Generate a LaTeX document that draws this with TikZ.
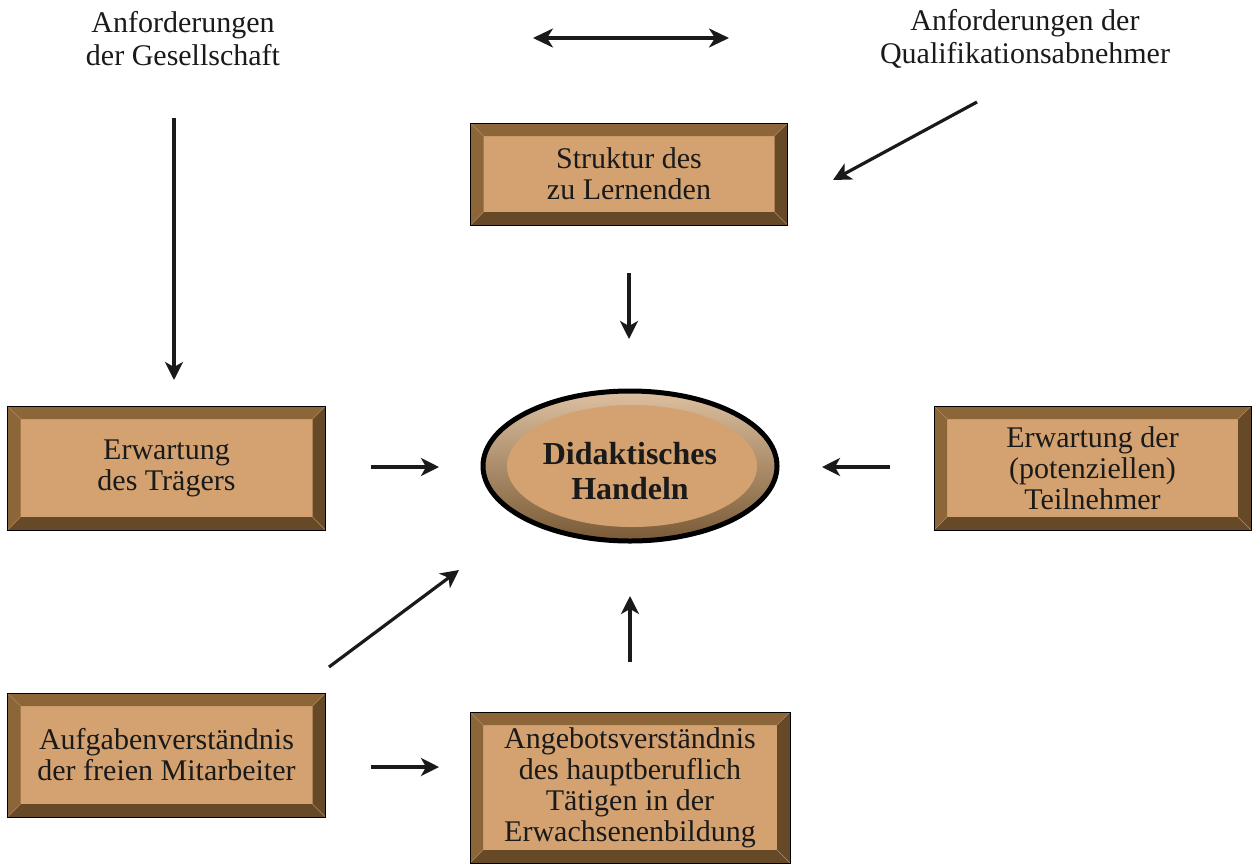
\documentclass[tikz,border=0pt]{standalone}
\usepackage{fontspec}
\setmainfont{Liberation Serif}
\usetikzlibrary{arrows.meta,calc}

\definecolor{boxfill}{HTML}{D4A270}
\definecolor{bevtop}{HTML}{8C6638}
\definecolor{bevbot}{HTML}{664A28}
\definecolor{bevline}{HTML}{B08A5C}
\definecolor{ringtop}{HTML}{DCC0A0}
\definecolor{ringbot}{HTML}{7A5A36}
\definecolor{ink}{HTML}{1A1A1A}

\tikzset{
  txt/.style={font=\fontsize{30}{33}\selectfont, text=ink, align=center, inner sep=0pt},
  % rectangle with bevelled frame: light top/left, dark right/bottom
  bevelbox/.style={rectangle, draw=black, line width=1pt, fill=boxfill,
    font=\fontsize{30}{31}\selectfont, text=ink, align=center, inner sep=0pt,
    path picture={
      \coordinate (nw) at (path picture bounding box.north west);
      \coordinate (se) at (path picture bounding box.south east);
      \coordinate (ne) at (path picture bounding box.north east);
      \coordinate (sw) at (path picture bounding box.south west);
      \fill[bevtop] (nw) -- (ne) -- ($(ne)+(-13pt,-13pt)$) -- ($(nw)+(13pt,-13pt)$) -- cycle;
      \fill[bevtop] (nw) -- (sw) -- ($(sw)+(13pt,13pt)$) -- ($(nw)+(13pt,-13pt)$) -- cycle;
      \fill[bevbot] (se) -- (ne) -- ($(ne)+(-13pt,-13pt)$) -- ($(se)+(-13pt,13pt)$) -- cycle;
      \fill[bevbot] (se) -- (sw) -- ($(sw)+(13pt,13pt)$) -- ($(se)+(-13pt,13pt)$) -- cycle;
      \draw[bevline, line width=0.4pt] (nw) -- ++(13pt,-13pt) (ne) -- ++(-13pt,-13pt)
        (sw) -- ++(13pt,13pt) (se) -- ++(-13pt,13pt);
    }},
  arr/.style={line width=3.2pt, draw=ink, -{Stealth[length=18pt,width=18pt,inset=5pt]}},
  dblarr/.style={line width=3.2pt, draw=ink, {Stealth[length=20pt,width=19pt,inset=6pt]}-{Stealth[length=20pt,width=19pt,inset=6pt]}}
}

\begin{document}
\begin{tikzpicture}[x=1pt,y=-1pt]
\useasboundingbox (0,0) rectangle (1252,865);

% headings at the top
\node[txt] (ges) at (183,39) {Anforderungen\\der Gesellschaft};
\node[txt] (qual) at (1025,39) {Anforderungen der\\Qualifikationsabnehmer};

% bevelled boxes
\node[bevelbox, minimum width=317pt, minimum height=102pt] (strukt) at (629,174) {Struktur des\\zu Lernenden};
\node[bevelbox, minimum width=318pt, minimum height=124pt] (traeger) at (166.5,468) {Erwartung\\des Trägers};
\node[bevelbox, minimum width=317pt, minimum height=124pt] (teiln) at (1092.5,468) {Erwartung der\\(potenziellen)\\Teilnehmer};
\node[bevelbox, minimum width=318pt, minimum height=124pt] (aufg) at (166.5,755) {Aufgabenverständnis\\der freien Mitarbeiter};
\node[bevelbox, minimum width=320pt, minimum height=151pt] (angeb) at (630,787.5) {Angebotsverständnis\\des hauptberuflich\\Tätigen in der\\Erwachsenenbildung};

% central ellipse: shaded ring with a flat inner disc
\shade[top color=ringtop, bottom color=ringbot] (630,466) ellipse [x radius=147pt, y radius=75pt];
\draw[black, line width=5pt] (630,466) ellipse [x radius=147pt, y radius=75pt];
\fill[boxfill] (632,466) ellipse [x radius=125pt, y radius=61pt];
\node[font=\bfseries\fontsize{32}{35}\selectfont, text=ink, align=center, inner sep=0pt,
      minimum width=296pt, minimum height=152pt] (ell) at (630,471) {Didaktisches\\Handeln};

% arrow end points
\coordinate (d1) at (533,38);  \coordinate (d2) at (729,38);
\coordinate (g1) at (174,118); \coordinate (g2) at (174,380);
\coordinate (q1) at (977,102); \coordinate (q2) at (833,180);
\coordinate (s1) at (629,273); \coordinate (s2) at (629,339);
\coordinate (t1) at (371,467); \coordinate (t2) at (439,467);
\coordinate (n1) at (890,467); \coordinate (n2) at (822,467);
\coordinate (a1) at (329,667); \coordinate (a2) at (459,570);
\coordinate (b1) at (630,662); \coordinate (b2) at (630,596);
\coordinate (c1) at (371,767); \coordinate (c2) at (439,767);

% connectors
\draw[dblarr] (d1) -- (d2);
\draw[arr] (g1) -- (g2);
\draw[arr] (q1) -- (q2);
\draw[arr] (s1) -- (s2);
\draw[arr] (t1) -- (t2);
\draw[arr] (n1) -- (n2);
\draw[arr] (a1) -- (a2);
\draw[arr] (b1) -- (b2);
\draw[arr] (c1) -- (c2);
\end{tikzpicture}
\end{document}
